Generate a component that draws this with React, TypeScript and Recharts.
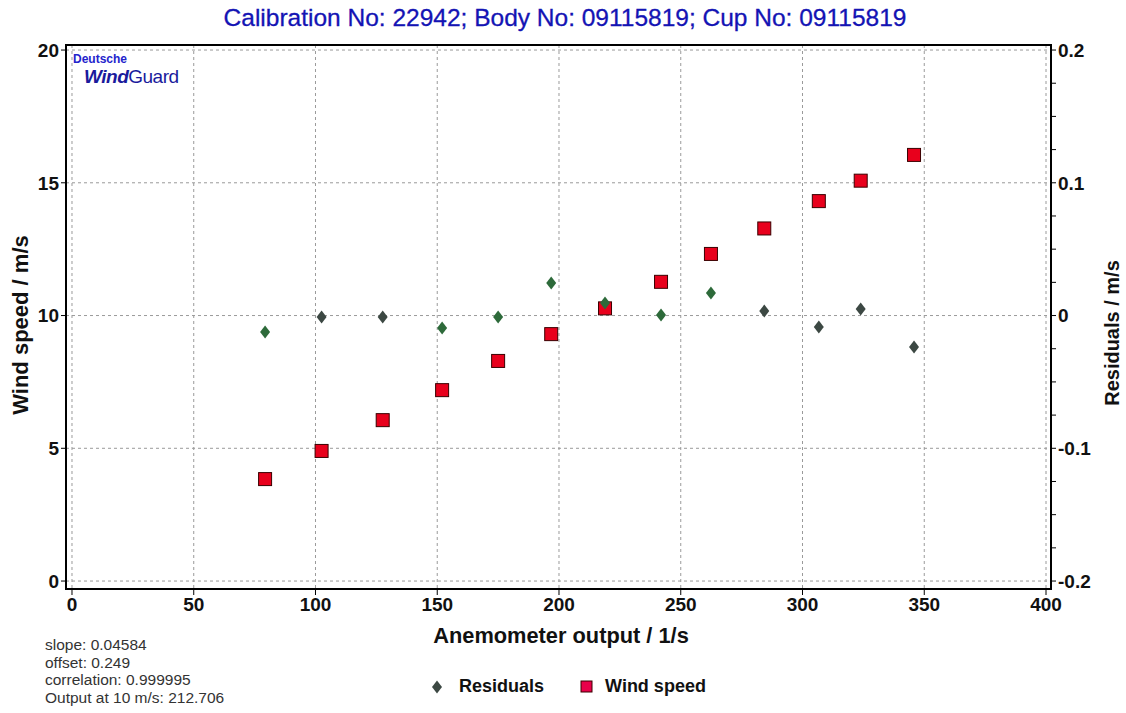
import { ScatterChart, Scatter, XAxis, YAxis, CartesianGrid, ReferenceArea } from 'recharts';

// anemometer output (1/s) for each calibration step
const outputs = [79.3, 102.5, 127.6, 152.0, 175.0, 196.8, 218.9, 241.9, 262.4, 284.3, 306.7, 323.9, 345.8];
// measured wind speed (m/s)
const windSpeeds = [3.84, 4.9, 6.06, 7.19, 8.29, 9.3, 10.27, 11.27, 12.32, 13.28, 14.31, 15.08, 16.05];
// residuals of the linear fit (m/s)
const residuals = [-0.0124, -0.0011, -0.0011, -0.0094, -0.0011, 0.0245, 0.0094, 0.0004, 0.017, 0.0034, -0.0087, 0.0049, -0.0237];
// marker shade used by the original plot for each residual
const residualShade = ['g', 'd', 'd', 'g', 'g', 'g', 'g', 'g', 'g', 'd', 'd', 'd', 'd'];

const xTicks = [0, 50, 100, 150, 200, 250, 300, 350, 400];
const windTicks = [0, 5, 10, 15, 20];
const residualTicks = [-0.2, -0.175, -0.15, -0.125, -0.1, -0.075, -0.05, -0.025, 0, 0.025, 0.05, 0.075, 0.1, 0.125, 0.15, 0.175, 0.2];

const stats = ['slope: 0.04584', 'offset: 0.249', 'correlation: 0.999995', 'Output at 10 m/s: 212.706'];

const windData = outputs.map((x, i) => ({ x, y: windSpeeds[i] }));
const residualData = outputs.map((x, i) => ({ x, y: residuals[i], shade: residualShade[i] }));

const X_DOMAIN: [number, number] = [-2.46, 402.05];
const LEFT_DOMAIN: [number, number] = [-0.3, 20.19];
const RIGHT_DOMAIN: [number, number] = [-0.206, 0.2038];

const FONT = '"Liberation Sans", Arial, sans-serif';
const tickStyle = { fontSize: 19, fontWeight: 700, fill: '#111', fontFamily: FONT };

const Square = (p: any) => (
  <rect x={p.cx - 6.5} y={p.cy - 6.5} width={13} height={13} fill="#e8001c" stroke="#3a0000" strokeWidth={1} />
);

const Diamond = (p: any) => {
  const c = p.payload && p.payload.shade === 'g' ? '#2d6a3a' : '#3c4843';
  return (
    <path d={`M${p.cx},${p.cy - 6.5} L${p.cx + 5},${p.cy} L${p.cx},${p.cy + 6.5} L${p.cx - 5},${p.cy} Z`} fill={c} />
  );
};

const fmtResidual = (v: number) => {
  const r = Math.round(v * 1000) / 1000;
  if (Math.abs(r * 10 - Math.round(r * 10)) > 1e-6) return '';
  if (r === 0) return '0';
  return String(Math.round(r * 10) / 10);
};

export default function App() {
  return (
    <div style={{ position: 'absolute', left: 0, top: 0, width: 1126, height: 713, background: '#fff', fontFamily: FONT }}>
      <ScatterChart width={1126} height={713} margin={{ top: 45, left: 6, right: 15, bottom: 84 }}>
        <CartesianGrid yAxisId="left" stroke="#9a9a9a" strokeDasharray="3 3" />
        <XAxis
          type="number"
          dataKey="x"
          domain={X_DOMAIN}
          ticks={xTicks}
          allowDataOverflow
          axisLine={false}
          tickSize={6}
          tickMargin={3}
          height={40}
          tick={tickStyle}
          stroke="#000"
        />
        <YAxis
          yAxisId="left"
          type="number"
          dataKey="y"
          domain={LEFT_DOMAIN}
          ticks={windTicks}
          allowDataOverflow
          axisLine={false}
          tickSize={5}
          tickMargin={2}
          width={60}
          tick={tickStyle}
          stroke="#000"
        />
        <YAxis
          yAxisId="right"
          orientation="right"
          type="number"
          dataKey="y"
          domain={RIGHT_DOMAIN}
          ticks={residualTicks}
          tickFormatter={fmtResidual}
          allowDataOverflow
          axisLine={false}
          tickSize={5}
          tickMargin={2}
          width={60}
          tick={tickStyle}
          stroke="#000"
        />
        <Scatter yAxisId="left" data={windData} shape={Square} isAnimationActive={false} />
        <Scatter yAxisId="right" data={residualData} shape={Diamond} isAnimationActive={false} />
        <ReferenceArea
          yAxisId="left"
          x1={X_DOMAIN[0]}
          x2={X_DOMAIN[1]}
          y1={LEFT_DOMAIN[0]}
          y2={LEFT_DOMAIN[1]}
          fill="none"
          fillOpacity={0}
          stroke="#000"
          strokeWidth={2}
          ifOverflow="visible"
        />
      </ScatterChart>

      <div style={{ position: 'absolute', left: 0, width: 1130, top: 4, textAlign: 'center', fontSize: 24.5, color: '#1414b4', WebkitTextStroke: '0.3px #1414b4' }}>
        Calibration No: 22942; Body No: 09115819; Cup No: 09115819
      </div>

      <div style={{ position: 'absolute', left: 73, top: 52, fontSize: 12, fontWeight: 700, color: '#2424cc', lineHeight: '14px' }}>
        Deutsche
      </div>
      <div style={{ position: 'absolute', left: 84, top: 66, fontSize: 19, color: '#1a1a9c', lineHeight: '22px', letterSpacing: -0.5 }}>
        <span style={{ fontWeight: 700, fontStyle: 'italic' }}>Wind</span>
        <span>Guard</span>
      </div>

      <div
        style={{
          position: 'absolute',
          left: 21,
          top: 325,
          transform: 'translate(-50%, -50%) rotate(-90deg)',
          fontSize: 22,
          fontWeight: 700,
          color: '#111',
          whiteSpace: 'nowrap',
        }}
      >
        Wind speed / m/s
      </div>
      <div
        style={{
          position: 'absolute',
          left: 1112,
          top: 333,
          transform: 'translate(-50%, -50%) rotate(-90deg)',
          fontSize: 20,
          fontWeight: 700,
          color: '#111',
          whiteSpace: 'nowrap',
        }}
      >
        Residuals / m/s
      </div>
      <div style={{ position: 'absolute', left: 0, width: 1122, top: 623, textAlign: 'center', fontSize: 21.8, fontWeight: 700, color: '#111' }}>
        Anemometer output / 1/s
      </div>

      <div style={{ position: 'absolute', left: 45, top: 636, fontSize: 15.5, lineHeight: '17.5px', color: '#333' }}>
        {stats.map((s) => (
          <div key={s}>{s}</div>
        ))}
      </div>

      <div style={{ position: 'absolute', left: 430, top: 676, display: 'flex', alignItems: 'center', fontSize: 18, fontWeight: 700, color: '#111' }}>
        <svg width={14} height={14} style={{ marginRight: 15 }}>
          <path d="M7,0.5 L12,7 L7,13.5 L2,7 Z" fill="#3c4843" />
        </svg>
        <span>Residuals</span>
        <svg width={14} height={14} style={{ marginLeft: 36, marginRight: 11 }}>
          <rect x={1} y={1} width={11} height={11} fill="#e8004a" stroke="#3a0000" strokeWidth={1} />
        </svg>
        <span>Wind speed</span>
      </div>
    </div>
  );
}
